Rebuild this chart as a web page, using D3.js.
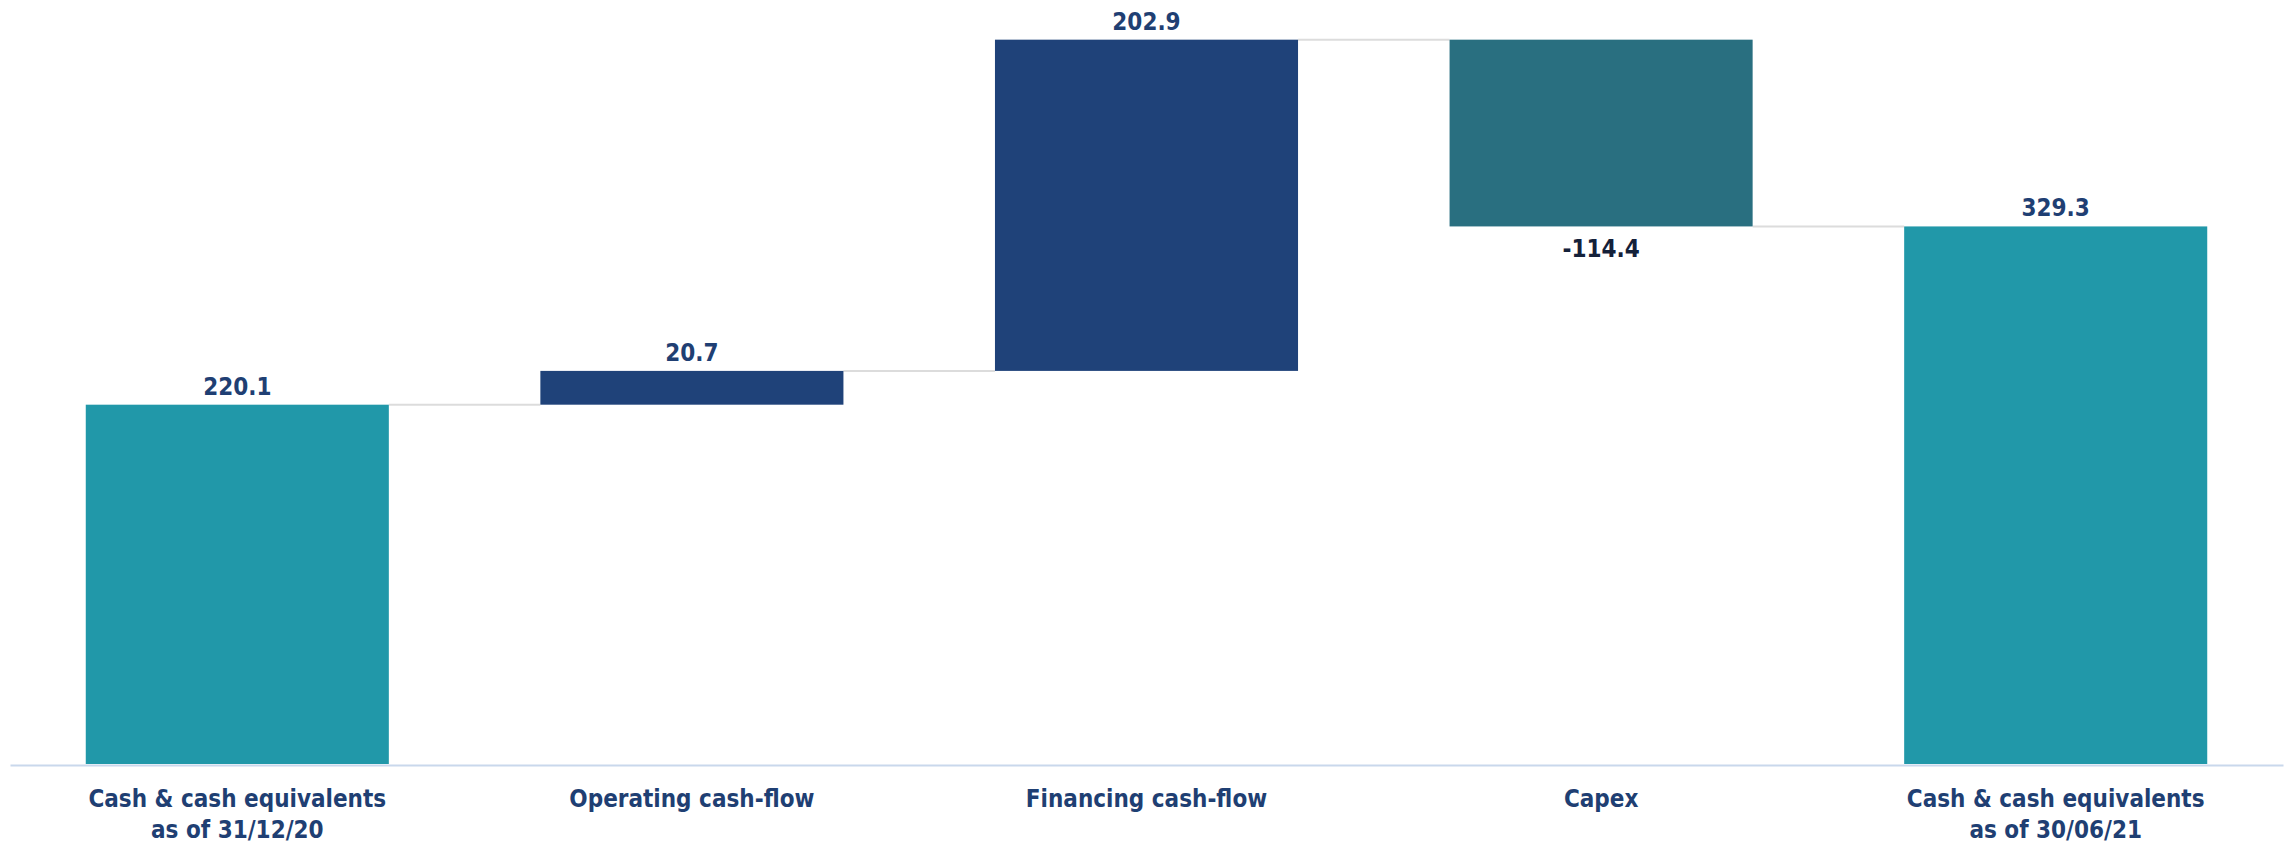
<!DOCTYPE html>
<html>
<head>
<meta charset="utf-8">
<script src="https://cdn.jsdelivr.net/npm/d3@7"></script>
<style>
  html, body { margin: 0; padding: 0; background: #ffffff; }
  svg { display: block; }
  text { font-family: "DejaVu Sans Condensed", "DejaVu Sans", sans-serif; font-stretch: condensed; }
</style>
</head>
<body>
<svg id="chart" width="2290" height="845"></svg>
<script>
// Cash bridge, H1 2021 (EUR m)
const categories = [
  ["Cash & cash equivalents", "as of 31/12/20"],
  ["Operating cash-flow"],
  ["Financing cash-flow"],
  ["Capex"],
  ["Cash & cash equivalents", "as of 30/06/21"]
];
const values = [220.1, 20.7, 202.9, -114.4, 329.3];
const kinds = ["total", "delta", "delta", "delta", "total"];
const valueLabels = ["220.1", "20.7", "202.9", "-114.4", "329.3"];

const colors = { total: "#2198a9", up: "#1f4279", down: "#296f80" };
const labelColor = "#1f3f73";
const negLabelColor = "#14213a";

// Floating segments: totals start at zero, deltas start at the running sum
let running = 0;
const bars = values.map((v, i) => {
  let y0, y1;
  if (kinds[i] === "total") { y0 = 0; y1 = v; running = v; }
  else { y0 = running; y1 = running + v; running = y1; }
  return { i, v, y0, y1, lo: Math.min(y0, y1), hi: Math.max(y0, y1), kind: kinds[i] };
});

const svg = d3.select("#chart");
const baseY = 764;

const x = d3.scaleBand()
  .domain(d3.range(categories.length))
  .range([10, 2283])
  .paddingInner(1 / 3)
  .paddingOuter(1 / 6);

const y = d3.scaleLinear().domain([0, 468]).range([baseY, 0]);

// Connector lines between consecutive bars
const connectors = bars.slice(0, -1).map((b, k) => ({ from: b, to: bars[k + 1], level: b.y1 }));
svg.append("g").selectAll("line").data(connectors).join("line")
  .attr("x1", d => x(d.from.i) + x.bandwidth())
  .attr("x2", d => x(d.to.i))
  .attr("y1", d => y(d.level))
  .attr("y2", d => y(d.level))
  .attr("stroke", "#dcdcdc")
  .attr("stroke-width", 2);

// Bars
svg.append("g").selectAll("rect").data(bars).join("rect")
  .attr("x", d => x(d.i))
  .attr("width", x.bandwidth())
  .attr("y", d => y(d.hi))
  .attr("height", d => y(d.lo) - y(d.hi))
  .attr("fill", d => d.kind === "total" ? colors.total : (d.v >= 0 ? colors.up : colors.down));

// Baseline axis
const xAxis = d3.axisBottom(x).tickSize(0).tickFormat("");
const axisG = svg.append("g").attr("transform", `translate(0,${baseY + 1})`).call(xAxis);
axisG.select(".domain").attr("stroke", "#c9d8ec").attr("stroke-width", 2);

// Category labels
const catG = svg.append("g");
categories.forEach((lines, i) => {
  const cx = x(i) + x.bandwidth() / 2;
  const t = catG.append("text")
    .attr("x", cx)
    .attr("y", 807)
    .attr("text-anchor", "middle")
    .attr("fill", labelColor)
    .attr("font-size", 24)
    .attr("font-weight", "bold");
  lines.forEach((ln, k) => {
    t.append("tspan")
      .attr("x", cx)
      .attr("dy", k === 0 ? 0 : 31)
      .text(ln);
  });
});

// Value labels: above the bar for increases and totals, below for decreases
svg.append("g").selectAll("text").data(bars).join("text")
  .attr("x", d => x(d.i) + x.bandwidth() / 2)
  .attr("y", d => d.v >= 0 ? y(d.hi) - 10 : y(d.lo) + 31)
  .attr("text-anchor", "middle")
  .attr("font-size", 24)
  .attr("font-weight", "bold")
  .attr("fill", d => d.v >= 0 ? labelColor : negLabelColor)
  .text(d => valueLabels[d.i]);
</script>
</body>
</html>
